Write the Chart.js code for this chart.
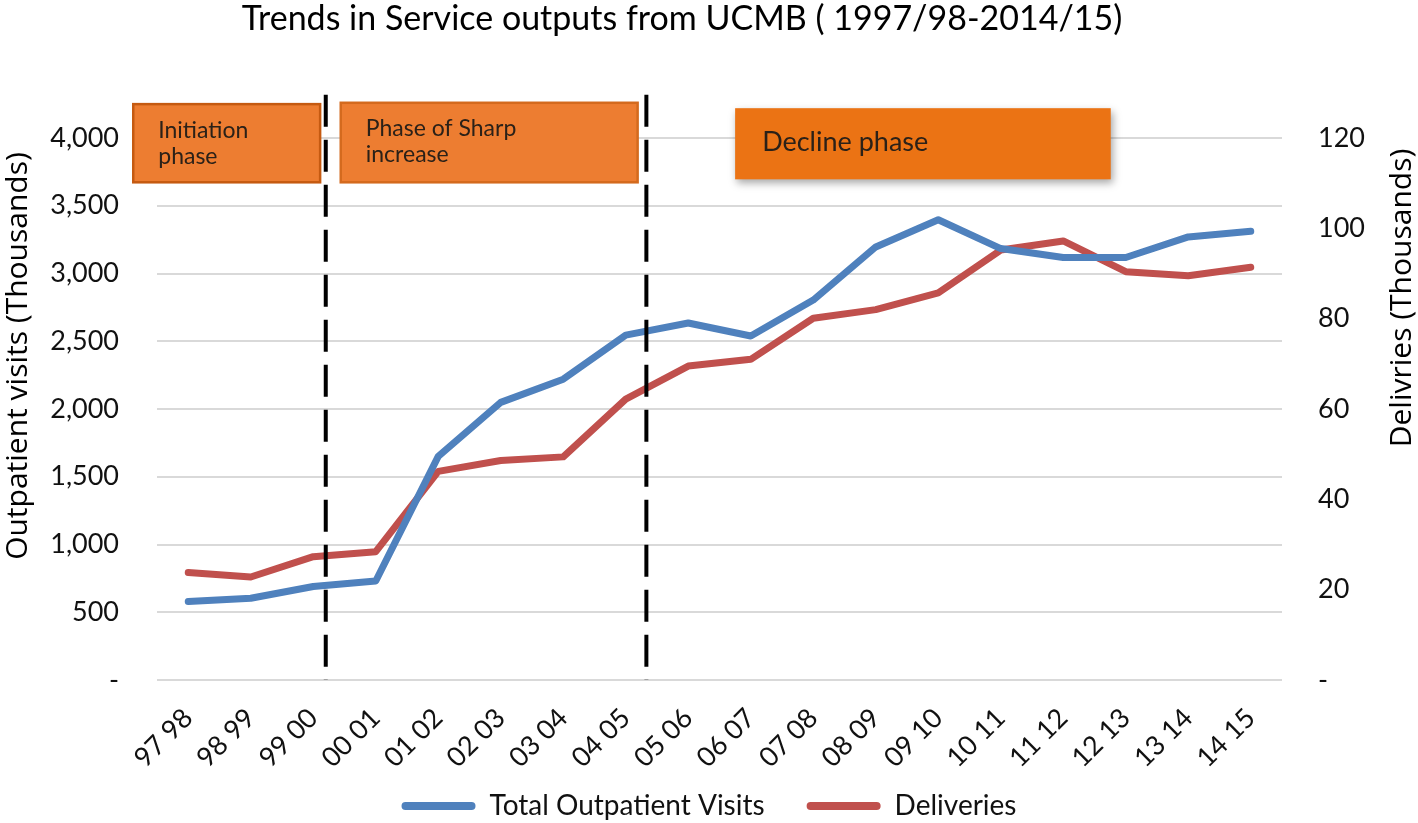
<!DOCTYPE html>
<html>
<head>
<meta charset="utf-8">
<script src="https://cdn.jsdelivr.net/npm/chart.js@4"></script>
<style>
  html, body { margin: 0; padding: 0; background: #fff; }
  #wrap { position: relative; width: 1418px; height: 823px; }
</style>
</head>
<body>
<div id="wrap"><canvas id="c"></canvas></div>
<script>
const years = ['97 98','98 99','99 00','00 01','01 02','02 03','03 04','04 05','05 06',
  '06 07','07 08','08 09','09 10','10 11','11 12','12 13','13 14','14 15'];
// outpatient visits, thousands (left axis)
const visits = [579, 603, 690, 731, 1650, 2049, 2220, 2545, 2635, 2539, 2804, 3196, 3397, 3184, 3118, 3118, 3270, 3311];
// deliveries, thousands (right axis)
const deliveries = [23.8, 22.8, 27.3, 28.4, 46.2, 48.6, 49.4, 62.2, 69.5, 71.0, 80.1, 82.0, 85.7, 95.2, 97.2, 90.4, 89.5, 91.4];

const leftTicks = { min: 0, max: 4000, step: 500 };
const rightTicks = { min: 0, max: 120, step: 20 };

// phase boxes: x in category index units, y in left-axis units
const phases = [
  { x0: -0.88, x1: 2.11, y0: 3673, y1: 4250, lines: ['Initiation', 'phase'], size: 23, fill: '#ED7D31', border: '#C55A11', shadow: false },
  { x0: 2.44, x1: 7.19, y0: 3673, y1: 4260, lines: ['Phase of Sharp', 'increase'], size: 23, fill: '#ED7D31', border: '#D46A1E', shadow: false },
  { x0: 8.75, x1: 14.76, y0: 3695, y1: 4220, lines: ['Decline phase'], size: 27, fill: '#EB7314', border: null, shadow: true }
];
const dividers = [2.2, 7.33];

const font = 'Lato, "Open Sans", sans-serif';
const bottomPad = -7;

const overlay = {
  id: 'overlay',
  afterLayout(chart) {
    // let the rotated x labels run down into the legend band without being clipped
    chart.scales.x.bottom = chart.height;
  },
  afterDatasetsDraw(chart) {
    const { ctx, scales: { x, y } } = chart;
    ctx.save();
    // dashed phase dividers
    ctx.strokeStyle = '#000';
    ctx.lineWidth = 4;
    ctx.setLineDash([32, 13]);
    dividers.forEach(d => {
      const px = x.getPixelForValue(d);
      ctx.beginPath();
      ctx.moveTo(px, y.getPixelForValue(4320));
      ctx.lineTo(px, y.getPixelForValue(0));
      ctx.stroke();
    });
    ctx.setLineDash([]);
    // phase boxes
    phases.forEach(p => {
      const l = x.getPixelForValue(p.x0), r = x.getPixelForValue(p.x1);
      const t = y.getPixelForValue(p.y1), b = y.getPixelForValue(p.y0);
      ctx.save();
      if (p.shadow) {
        ctx.shadowColor = 'rgba(0,0,0,0.35)';
        ctx.shadowBlur = 8;
        ctx.shadowOffsetX = 2;
        ctx.shadowOffsetY = 4;
      }
      ctx.fillStyle = p.fill;
      ctx.fillRect(l, t, r - l, b - t);
      ctx.restore();
      if (p.border) {
        ctx.strokeStyle = p.border;
        ctx.lineWidth = 2.5;
        ctx.strokeRect(l, t, r - l, b - t);
      }
      ctx.fillStyle = '#2b2118';
      ctx.font = p.size + 'px ' + font;
      ctx.textBaseline = 'middle';
      ctx.textAlign = 'left';
      if (p.lines.length === 1) {
        ctx.fillText(p.lines[0], l + 27, (t + b) / 2 - 1);
      } else {
        ctx.fillText(p.lines[0], l + 25, t + 26);
        ctx.fillText(p.lines[1], l + 25, t + 52);
      }
    });
    ctx.restore();
  },
  afterDraw(chart) {
    const { ctx } = chart;
    ctx.save();
    ctx.fillStyle = '#000';
    ctx.textAlign = 'center';
    ctx.textBaseline = 'middle';
    ctx.font = '34px ' + font;
    ctx.fillText('Trends in Service outputs from UCMB ( 1997/98-2014/15)', 682, 19);
    ctx.font = '30px "Open Sans", sans-serif';
    ctx.translate(18, 356);
    ctx.rotate(-Math.PI / 2);
    ctx.fillText('Outpatient visits (Thousands)', 0, 0);
    ctx.restore();
    ctx.save();
    ctx.fillStyle = '#000';
    ctx.textAlign = 'center';
    ctx.textBaseline = 'middle';
    ctx.font = '30px "Open Sans", sans-serif';
    ctx.translate(1402, 298);
    ctx.rotate(-Math.PI / 2);
    ctx.fillText('Delivries (Thousands)', 0, 0);
    ctx.restore();
  }
};

const fmtZero = (v, f) => v === 0 ? '-' : f(v);

new Chart(document.getElementById('c'), {
  type: 'line',
  data: {
    labels: years,
    datasets: [
      {
        label: 'Total Outpatient Visits',
        data: visits,
        yAxisID: 'y',
        borderColor: '#4F81BD',
        backgroundColor: '#4F81BD',
        borderWidth: 7,
        pointRadius: 0,
        borderJoinStyle: 'round',
        borderCapStyle: 'round',
        tension: 0
      },
      {
        label: 'Deliveries',
        data: deliveries,
        yAxisID: 'y1',
        borderColor: '#C0504D',
        backgroundColor: '#C0504D',
        borderWidth: 7,
        pointRadius: 0,
        borderJoinStyle: 'round',
        borderCapStyle: 'round',
        tension: 0
      }
    ]
  },
  options: {
    responsive: true,
    maintainAspectRatio: false,
    animation: false,
    layout: { padding: { top: 138, left: 0, right: 0, bottom: bottomPad } },
    plugins: {
      title: { display: false },
      tooltip: { enabled: false },
      legend: {
        position: 'bottom',
        labels: {
          font: { family: font, size: 28 },
          color: '#111',
          boxWidth: 74,
          boxHeight: 8,
          useBorderRadius: true,
          borderRadius: 4,
          padding: 42,
          generateLabels(chart) {
            const items = Chart.defaults.plugins.legend.labels.generateLabels(chart);
            items.forEach(i => { i.lineWidth = 0; i.fillStyle = i.strokeStyle; });
            return items;
          }
        }
      }
    },
    scales: {
      x: {
        offset: true,
        grid: { display: false, drawTicks: false },
        border: { display: false },
        ticks: {
          font: { family: font, size: 27 },
          color: '#111',
          minRotation: 45,
          maxRotation: 45,
          autoSkip: false,
          padding: 22
        },
        afterFit(s) { s.height = 823 - bottomPad - 680 - s.chart.legend.height; }
      },
      y: {
        position: 'left',
        min: leftTicks.min,
        max: leftTicks.max,
        grid: { color: '#D9D9D9', lineWidth: 2, drawTicks: false },
        border: { display: false },
        ticks: {
          stepSize: leftTicks.step,
          padding: 38,
          font: { family: font, size: 27 },
          color: '#111',
          callback: v => fmtZero(v, n => n.toLocaleString('en-US'))
        },
        afterFit(s) { s.width = 157; }
      },
      y1: {
        position: 'right',
        min: rightTicks.min,
        max: rightTicks.max,
        grid: { display: false, drawTicks: false },
        border: { display: false },
        ticks: {
          stepSize: rightTicks.step,
          padding: 36,
          font: { family: font, size: 27 },
          color: '#111',
          callback: v => fmtZero(v, n => String(n))
        },
        afterFit(s) { s.width = 1418 - 1282; }
      }
    }
  },
  plugins: [overlay]
});
</script>
</body>
</html>
